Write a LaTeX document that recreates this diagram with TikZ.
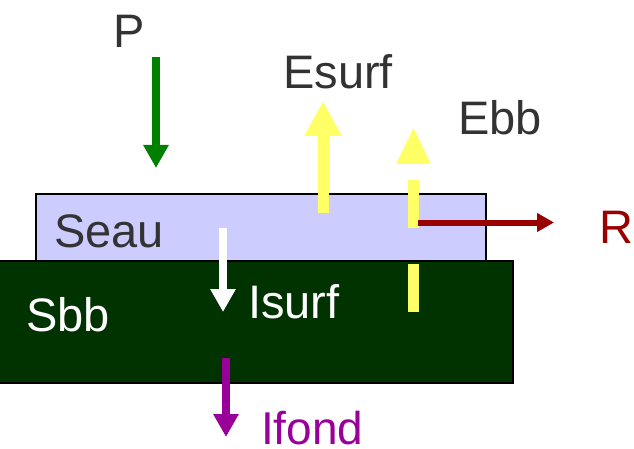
\documentclass[tikz,border=0pt]{standalone}
\usepackage{fontspec}
\setmainfont{Liberation Sans}
\usetikzlibrary{arrows.meta}
\definecolor{water}{HTML}{CCCCFF}
\definecolor{soil}{HTML}{003300}
\definecolor{ink}{HTML}{333333}
\definecolor{rain}{HTML}{008000}
\definecolor{sun}{HTML}{FFFF66}
\definecolor{runoff}{HTML}{990000}
\definecolor{drain}{HTML}{990099}
\tikzset{
  lbl/.style={anchor=base west, inner sep=0pt, font=\fontsize{47}{47}\selectfont},
  layer/.style={draw=black, line width=1.4pt},
  bigflux/.style={line width=8pt, -{Triangle[width=24pt 0 0, length=23pt 0 0]}},
  heatflux/.style={line width=11pt, -{Triangle[width=35pt 0 0, length=35pt 0 0]}},
  smallflux/.style={line width=6pt, -{Triangle[width=18pt 0 0, length=17pt 0 0]}},
}
\begin{document}
\begin{tikzpicture}[x=1pt, y=-1pt]
  \useasboundingbox (0,0) rectangle (634,449);

  % water layer and soil layer
  \draw[layer, fill=water] (36,194) rectangle (486,261);
  \draw[layer, fill=soil] (-1,261) rectangle (513,383);

  % labels
  \node[lbl, text=ink] (P) at (113,48) {P};
  \node[lbl, text=ink] (Esurf) at (283,89) {Esurf};
  \node[lbl, text=ink] (Ebb) at (458,135) {Ebb};
  \node[lbl, text=ink] (Seau) at (54,247) {Seau};
  \node[lbl, text=white] (Sbb) at (26,331) {Sbb};
  \node[lbl, text=white] (Isurf) at (248,318) {Isurf};
  \node[lbl, text=drain, font=\fontsize{46}{46}\selectfont] (Ifond) at (261,444) {Ifond};
  \node[lbl, text=runoff] (R) at (599,243) {R};

  % precipitation
  \coordinate (p0) at (156,57);
  \coordinate (p1) at (156,168);
  \draw[bigflux, rain] (p0) -- (p1);

  % surface evaporation
  \coordinate (es0) at (323,213);
  \coordinate (es1) at (323,101);
  \draw[heatflux, sun] (es0) -- (es1);

  % soil evaporation: broken shaft and detached head
  \coordinate (eb0) at (413,264);
  \coordinate (eb1) at (413,312);
  \coordinate (eb2) at (413,180);
  \coordinate (eb3) at (413,228);
  \draw[line width=11pt, sun] (eb0) -- (eb1);
  \draw[line width=11pt, sun] (eb2) -- (eb3);
  \fill[sun] (396,164) -- (431,164) -- (413.5,128) -- cycle;

  % runoff
  \coordinate (r0) at (418,222.5);
  \coordinate (r1) at (554,222.5);
  \draw[smallflux, runoff] (r0) -- (r1);

  % infiltration at surface
  \coordinate (i0) at (223,228);
  \coordinate (i1) at (223,312);
  \draw[bigflux, white] (i0) -- (i1);

  % deep drainage
  \coordinate (d0) at (226,358);
  \coordinate (d1) at (226,437);
  \draw[bigflux, drain] (d0) -- (d1);
\end{tikzpicture}
\end{document}
